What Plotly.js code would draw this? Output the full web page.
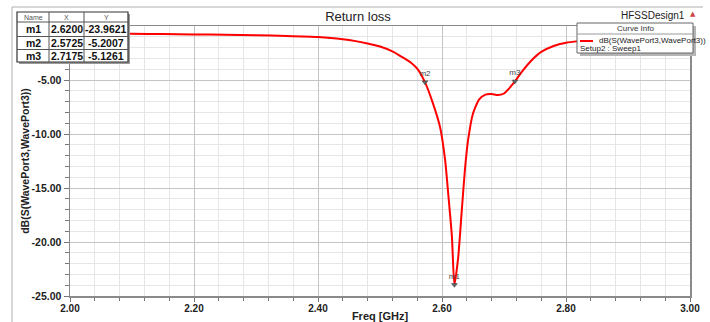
<!DOCTYPE html>
<html>
<head>
<meta charset="utf-8">
<script src="https://cdn.plot.ly/plotly-3.0.1.min.js"></script>
<style>
  html, body { margin: 0; padding: 0; background: #ffffff; }
  #chart { width: 710px; height: 322px; }
</style>
</head>
<body>
<div id="chart"></div>
<script>
// ---- data ----
const freqGHz = [2.00, 2.05, 2.10, 2.15, 2.20, 2.25, 2.30, 2.35, 2.40, 2.43, 2.45, 2.48, 2.50, 2.52, 2.535, 2.55, 2.56,
                 2.5725, 2.585, 2.597, 2.605, 2.61, 2.616, 2.62, 2.626, 2.632, 2.637, 2.642, 2.65, 2.66, 2.67, 2.68,
                 2.69, 2.70, 2.708, 2.7175, 2.73, 2.745, 2.76, 2.78, 2.80, 2.82, 2.85, 2.90, 2.95, 3.00];
const s33dB   = [-0.70, -0.71, -0.72, -0.75, -0.78, -0.81, -0.85, -0.92, -1.02, -1.15, -1.30, -1.62, -1.90, -2.35, -2.85, -3.40, -3.95,
                 -5.20, -7.10, -9.40, -12.4, -15.5, -19.5, -23.96, -21.5, -17.0, -13.3, -10.6, -8.1, -6.8, -6.35, -6.3,
                 -6.4, -6.25, -5.8, -5.13, -4.15, -3.15, -2.4, -1.85, -1.55, -1.4, -1.25, -1.1, -1.0, -0.95];

const markerNames = ['m1', 'm2', 'm3'];
const markerX = [2.6200, 2.5725, 2.7175];
const markerY = [-23.9621, -5.2007, -5.1261];

const yTickVals = [-25, -20, -15, -10, -5, 0];
const yTickText = ['-25.00', '-20.00', '-15.00', '-10.00', '-5.00', ''];
const xTickVals = [2.0, 2.2, 2.4, 2.6, 2.8, 3.0];
const xTickText = ['2.00', '2.20', '2.40', '2.60', '2.80', '3.00'];

const curveName = 'dB(S(WavePort3,WavePort3))';
const sweepName = 'Setup2 : Sweep1';
const chartTitle = 'Return loss';
const designName = 'HFSSDesign1';

// ---- pixel helpers (margins are zero, so paper == figure) ----
const W = 710, H = 322;
const px = x => x / W;
const py = y => 1 - y / H;
const FONT = 'Liberation Sans, Arial, sans-serif';

const traces = [
  {
    x: freqGHz, y: s33dB, type: 'scatter', mode: 'lines',
    line: { color: '#ff0000', width: 2, shape: 'spline', smoothing: 0.6 },
    name: curveName, showlegend: false, hoverinfo: 'x+y'
  },
  {
    x: markerX, y: markerY, type: 'scatter', mode: 'markers+text',
    marker: { symbol: 'triangle-down', size: 5, color: '#666', line: { color: '#333', width: 0.5 } },
    text: markerNames, textposition: 'top center',
    textfont: { family: FONT, size: 8, color: '#444' },
    showlegend: false, cliponaxis: false
  }
];

const shapes = [];
const annotations = [];

// outer frame lines
shapes.push({ type: 'line', xref: 'paper', yref: 'paper', x0: px(12), x1: px(703), y0: py(7), y1: py(7), line: { color: '#b0b0b0', width: 1 } });
shapes.push({ type: 'line', xref: 'paper', yref: 'paper', x0: px(12), x1: px(12), y0: py(7), y1: py(322), line: { color: '#b0b0b0', width: 1 } });

// marker table
const tX = [17, 49, 84, 128];
const tY = [12, 22, 36.5, 49.5, 62];
shapes.push({ type: 'rect', xref: 'paper', yref: 'paper', x0: px(tX[0] + 2), x1: px(tX[3] + 2), y0: py(tY[0] + 2), y1: py(tY[4] + 2), fillcolor: '#9a9a9a', line: { width: 0 }, layer: 'above' });
shapes.push({ type: 'rect', xref: 'paper', yref: 'paper', x0: px(tX[0]), x1: px(tX[3]), y0: py(tY[0]), y1: py(tY[4]), fillcolor: '#ffffff', line: { color: '#333', width: 1.2 }, layer: 'above' });
for (let i = 1; i < tX.length - 1; i++) {
  shapes.push({ type: 'line', xref: 'paper', yref: 'paper', x0: px(tX[i]), x1: px(tX[i]), y0: py(tY[0]), y1: py(tY[4]), line: { color: '#555', width: 1 }, layer: 'above' });
}
for (let j = 1; j < tY.length - 1; j++) {
  shapes.push({ type: 'line', xref: 'paper', yref: 'paper', x0: px(tX[0]), x1: px(tX[3]), y0: py(tY[j]), y1: py(tY[j]), line: { color: '#555', width: 1 }, layer: 'above' });
}
const headers = ['Name', 'X', 'Y'];
headers.forEach((h, i) => {
  annotations.push({ xref: 'paper', yref: 'paper', x: px((tX[i] + tX[i + 1]) / 2), y: py((tY[0] + tY[1]) / 2), text: h, showarrow: false,
    font: { family: FONT, size: 7, color: '#555' }, xanchor: 'center', yanchor: 'middle' });
});
markerNames.forEach((n, r) => {
  const cells = [n, markerX[r].toFixed(4), markerY[r].toFixed(4)];
  cells.forEach((c, i) => {
    annotations.push({ xref: 'paper', yref: 'paper', x: px((tX[i] + tX[i + 1]) / 2), y: py((tY[r + 1] + tY[r + 2]) / 2), text: c, showarrow: false,
      font: { family: FONT, size: 10.5, color: '#111', weight: 'bold' }, xanchor: 'center', yanchor: 'middle' });
  });
});

// curve info box
const lb = { x0: 577, x1: 693, y0: 23, y1: 53 };
shapes.push({ type: 'rect', xref: 'paper', yref: 'paper', x0: px(lb.x0 + 3), x1: px(lb.x1 + 3), y0: py(lb.y0 + 3), y1: py(lb.y1 + 3), fillcolor: '#b5b5b5', line: { width: 0 }, layer: 'above' });
shapes.push({ type: 'rect', xref: 'paper', yref: 'paper', x0: px(lb.x0), x1: px(lb.x1), y0: py(lb.y0), y1: py(lb.y1), fillcolor: '#ffffff', line: { color: '#666', width: 1 }, layer: 'above' });
shapes.push({ type: 'line', xref: 'paper', yref: 'paper', x0: px(lb.x0), x1: px(lb.x1), y0: py(34), y1: py(34), line: { color: '#999', width: 1 }, layer: 'above' });
shapes.push({ type: 'line', xref: 'paper', yref: 'paper', x0: px(580), x1: px(593), y0: py(41), y1: py(41), line: { color: '#ff0000', width: 2 }, layer: 'above' });
annotations.push({ xref: 'paper', yref: 'paper', x: px((lb.x0 + lb.x1) / 2), y: py(28.5), text: 'Curve Info', showarrow: false,
  font: { family: FONT, size: 8, color: '#333' }, xanchor: 'center', yanchor: 'middle' });
annotations.push({ xref: 'paper', yref: 'paper', x: px(597), y: py(41), text: curveName, showarrow: false,
  font: { family: FONT, size: 8, color: '#222' }, xanchor: 'left', yanchor: 'middle' });
annotations.push({ xref: 'paper', yref: 'paper', x: px(578), y: py(48.5), text: sweepName, showarrow: false,
  font: { family: FONT, size: 8, color: '#222' }, xanchor: 'left', yanchor: 'middle' });

// design name and icon
annotations.push({ xref: 'paper', yref: 'paper', x: px(653), y: py(16), text: designName, showarrow: false,
  font: { family: FONT, size: 10, color: '#222' }, xanchor: 'center', yanchor: 'middle' });
annotations.push({ xref: 'paper', yref: 'paper', x: px(693), y: py(14), text: '▲', showarrow: false,
  font: { family: 'DejaVu Sans', size: 7, color: '#d04545' }, xanchor: 'center', yanchor: 'middle' });

const layout = {
  width: W, height: H,
  margin: { l: 0, r: 0, t: 0, b: 0, pad: 0 },
  paper_bgcolor: '#ffffff', plot_bgcolor: '#ffffff',
  showlegend: false,
  title: { text: chartTitle, x: px(358), xanchor: 'center', y: py(16), yanchor: 'middle', xref: 'paper', yref: 'paper',
    font: { family: FONT, size: 13, color: '#222' } },
  xaxis: {
    domain: [px(70), px(690)], range: [2, 3], automargin: false,
    tickvals: xTickVals, ticktext: xTickText,
    ticks: 'outside', ticklen: 4, tickcolor: '#777', ticklabelstandoff: -2,
    showline: true, linecolor: '#8a8a8a', linewidth: 1.5, mirror: true,
    showgrid: true, gridcolor: '#c4c4c4', gridwidth: 1, zeroline: false,
    minor: { dtick: 0.04, tick0: 2, ticks: 'outside', ticklen: 3, tickcolor: '#777', showgrid: true, gridcolor: '#e6e6e6', gridwidth: 1 },
    tickfont: { family: FONT, size: 10, color: '#222', weight: 'bold' },
    title: { text: 'Freq [GHz]', font: { family: FONT, size: 11, color: '#222', weight: 'bold' }, standoff: 1 }
  },
  yaxis: {
    domain: [py(296), py(26)], range: [-25, 0], automargin: false,
    tickvals: yTickVals, ticktext: yTickText,
    ticks: 'outside', ticklen: 5, tickcolor: '#777',
    showline: true, linecolor: '#8a8a8a', linewidth: 1.5, mirror: true,
    showgrid: true, gridcolor: '#c4c4c4', gridwidth: 1, zeroline: false,
    minor: { dtick: 1, tick0: 0, ticks: 'outside', ticklen: 4, tickcolor: '#777', showgrid: true, gridcolor: '#e6e6e6', gridwidth: 1 },
    tickfont: { family: FONT, size: 10.5, color: '#222', weight: 'bold' },
    title: { text: 'dB(S(WavePort3,WavePort3))', font: { family: FONT, size: 10.5, color: '#222', weight: 'bold' }, standoff: 0 }
  },
  shapes: shapes,
  annotations: annotations
};

Plotly.newPlot('chart', traces, layout, { staticPlot: true, displayModeBar: false });
</script>
</body>
</html>
